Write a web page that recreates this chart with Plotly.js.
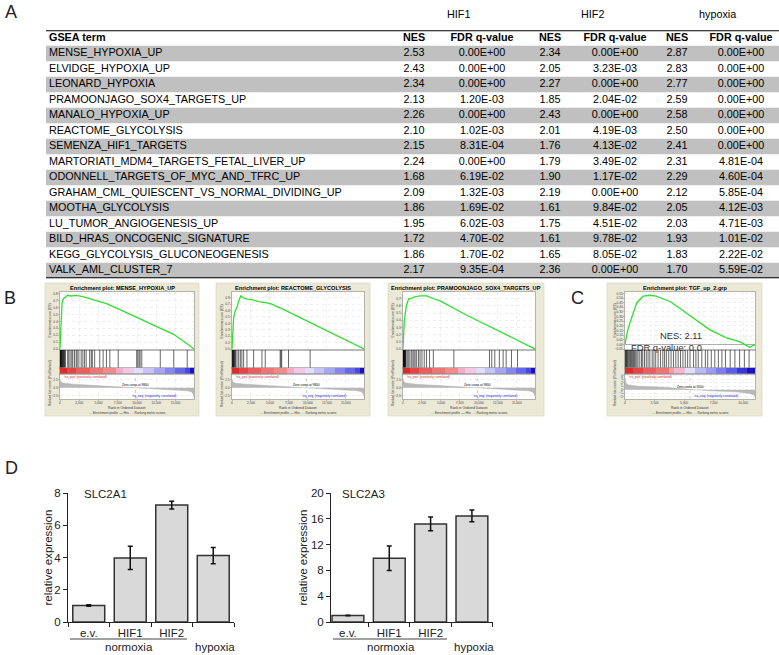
<!DOCTYPE html>
<html><head><meta charset="utf-8">
<script src="https://cdn.plot.ly/plotly-3.0.1.min.js"></script>
<style>html,body{margin:0;padding:0;background:#fff}#chart{width:779px;height:655px}</style>
</head><body><div id="chart"></div>
<script>
// ================= DATA =================
// Panel A table
const gseaTerms = ['MENSE_HYPOXIA_UP','ELVIDGE_HYPOXIA_UP','LEONARD_HYPOXIA','PRAMOONJAGO_SOX4_TARGETS_UP','MANALO_HYPOXIA_UP','REACTOME_GLYCOLYSIS','SEMENZA_HIF1_TARGETS','MARTORIATI_MDM4_TARGETS_FETAL_LIVER_UP','ODONNELL_TARGETS_OF_MYC_AND_TFRC_UP','GRAHAM_CML_QUIESCENT_VS_NORMAL_DIVIDING_UP','MOOTHA_GLYCOLYSIS','LU_TUMOR_ANGIOGENESIS_UP','BILD_HRAS_ONCOGENIC_SIGNATURE','KEGG_GLYCOLYSIS_GLUCONEOGENESIS','VALK_AML_CLUSTER_7'];
const groupHeaders = ['HIF1','HIF2','hypoxia'];
const columnHeaders = ['GSEA term','NES','FDR q-value','NES','FDR q-value','NES','FDR q-value'];
const hif1NES = [2.53,2.43,2.34,2.13,2.26,2.10,2.15,2.24,1.68,2.09,1.86,1.95,1.72,1.86,2.17];
const hif1FDR = ['0.00E+00','0.00E+00','0.00E+00','1.20E-03','0.00E+00','1.02E-03','8.31E-04','0.00E+00','6.19E-02','1.32E-03','1.69E-02','6.02E-03','4.70E-02','1.70E-02','9.35E-04'];
const hif2NES = [2.34,2.05,2.27,1.85,2.43,2.01,1.76,1.79,1.90,2.19,1.61,1.75,1.61,1.65,2.36];
const hif2FDR = ['0.00E+00','3.23E-03','0.00E+00','2.04E-02','0.00E+00','4.19E-03','4.13E-02','3.49E-02','1.17E-02','0.00E+00','9.84E-02','4.51E-02','9.78E-02','8.05E-02','0.00E+00'];
const hypoxiaNES = [2.87,2.83,2.77,2.59,2.58,2.50,2.41,2.31,2.29,2.12,2.05,2.03,1.93,1.83,1.70];
const hypoxiaFDR = ['0.00E+00','0.00E+00','0.00E+00','0.00E+00','0.00E+00','0.00E+00','0.00E+00','4.81E-04','4.60E-04','5.85E-04','4.12E-03','4.71E-03','1.01E-02','2.22E-02','5.59E-02'];

// Panels B/C: running enrichment scores (rank, ES)
const esRankMense = [0,130,260,440,700,1000,1450,2100,2970,4280,6030,8220,10400,12600,14800,16100,17400];
const esMense     = [0,0.24,0.66,0.73,0.76,0.78,0.77,0.78,0.76,0.72,0.66,0.55,0.44,0.33,0.21,0.11,0];
const esRankReact = [0,130,220,440,660,880,1180,1500,1970,2630,3500,4600,5260,6130,6570,8980,11170,13360,15550,17400];
const esReact     = [0,0.30,0.50,0.60,0.65,0.75,0.83,0.80,0.78,0.77,0.74,0.72,0.70,0.65,0.63,0.49,0.36,0.24,0.11,0];
const esRankPram  = [0,175,440,745,1180,1620,2280,3150,4030,4900,8410,12790,14980,17400];
const esPram      = [0,0.40,0.60,0.70,0.71,0.73,0.74,0.74,0.70,0.67,0.47,0.25,0.13,0];
const esRankTgf   = [0,110,220,440,990,1540,2090,2640,3850,4950,6050,7150,8580,9680,10120,10560,11000];
const esTgf       = [0,0.08,0.15,0.24,0.45,0.52,0.53,0.52,0.46,0.36,0.26,0.16,0.07,0.03,0.0,-0.03,0.0];

// Hit positions (ranks)
const hitsMense = [10,40,80,120,160,200,250,300,360,420,480,550,620,700,1000,1140,1310,1530,1660,1880,2100,2230,2450,2750,2970,3190,3400,3850,4060,4200,4500,5160,5600,6030,6470,7560,9960,10100,10270,10400,10620,13020,14770,16520];
const hitsReact = [20,60,100,150,200,260,320,400,480,660,880,1100,1300,1530,1970,2850,3950,4380,6350,6450,6550,7450,10300];
const hitsPram  = [20,50,80,110,140,170,200,240,280,330,400,550,700,900,1100,1300,1450,1600,1800,2050,2250,2500,2800,3100,3500,4000,6700,11400,11700,12100,12700,13200,13600,14300,15100];
const hitsTgf   = [20,60,100,150,200,260,330,400,470,550,640,720,800,900,1000,1100,1250,1400,1500,1650,1800,1950,2100,2300,2450,2600,2800,3000,3200,3350,3500,3700,3900,4100,4300,4500,4700,4900,5100,5300,5500,5800,6000,6200,6500,6800,7000,7300,7600,7900,8200,8500,8900,9300,9700,10100,10500];

// Ranked list metric (rank, value)
const metricRankB = [0,90,350,870,1740,3480,5220,6960,8700,9570,10440,12180,13920,15660,16530,17050,17310,17400];
const metricB     = [2.6,1.9,1.45,1.25,1.1,0.85,0.62,0.4,0.15,0.03,-0.08,-0.28,-0.5,-0.75,-0.95,-1.2,-1.9,-2.8];
const zeroCrossB  = 9800;
const metricRankC = [0,55,220,1100,3300,4950,5500,7150,9350,10450,10890,11000];
const metricC     = [3.5,2.0,1.4,1.0,0.7,0.3,0.0,-0.3,-0.6,-1.0,-1.4,-1.9];
const zeroCrossC  = 5500;

// Colour strip blocks (rank edges, correlation level)
const colorEdgesB  = [0,870,2090,3830,5570,7310,8180,9570,10790,12180,13570,14960,16180,16880,17400];
const colorValuesB = [1.0,0.9,0.8,0.7,0.6,0.3,0.15,-0.1,-0.25,-0.4,-0.55,-0.7,-0.85,-1.0];
const colorEdgesC  = [0,660,1540,2640,3740,4180,5060,5940,6820,7700,8580,9460,10340,11000];
const colorValuesC = [1.0,0.9,0.8,0.7,0.45,0.25,-0.1,-0.3,-0.45,-0.6,-0.75,-0.9,-1.0];

// Panel D
const conditions = ['e.v.','HIF1','HIF2','hypoxia'];
const slc2a1Mean = [1.02,3.97,7.25,4.12];
const slc2a1Err  = [0.05,0.72,0.24,0.5];
const slc2a3Mean = [1.0,9.9,15.2,16.45];
const slc2a3Err  = [0.05,1.9,1.07,0.9];

// ================= LAYOUT HELPERS =================
const W = 779, H = 655;
const FONT = 'Liberation Sans, Arial, Helvetica, sans-serif';
const data = [];
const layout = {width:W, height:H, margin:{l:0,r:0,t:0,b:0}, paper_bgcolor:'#ffffff', plot_bgcolor:'rgba(0,0,0,0)',
  showlegend:false, font:{family:FONT, color:'#000'}, shapes:[], annotations:[]};
let axCount = 0;
function addAxes(px0, px1, py0, py1, xo, yo) {
  axCount++;
  const s = axCount === 1 ? '' : String(axCount);
  const base = {showgrid:false, zeroline:false, showticklabels:false, ticks:'', fixedrange:true};
  layout['xaxis'+s] = Object.assign({}, base, {domain:[px0/W, px1/W], anchor:'y'+s}, xo || {});
  layout['yaxis'+s] = Object.assign({}, base, {domain:[1-py1/H, 1-py0/H], anchor:'x'+s}, yo || {});
  return {x:'x'+s, y:'y'+s};
}
function ann(px, py, text, opt) {
  const o = Object.assign({xref:'paper', yref:'paper', x:px/W, y:1-py/H, text:text, showarrow:false,
    xanchor:'center', yanchor:'middle'}, opt || {});
  o.font = Object.assign({family:FONT, size:10, color:'#000'}, (opt && opt.font) || {});
  layout.annotations.push(o);
}
function rect(x0, y0, x1, y1, fill, line) {
  layout.shapes.push({type:'rect', xref:'paper', yref:'paper', x0:x0/W, x1:x1/W, y0:1-y1/H, y1:1-y0/H,
    fillcolor:fill, line:line || {width:0}, layer:'below'});
}

// ================= PANEL A: TABLE =================
const ROW_H = 15.5;
const TABLE_L = 46, TABLE_R = 779, TABLE_T = 30.25, TABLE_B = TABLE_T + ROW_H * (gseaTerms.length + 1);
const colX = [49, 414, 482, 550, 615, 677, 741];      // text anchor per column
const groupX = [458, 592, 717];
const T = addAxes(0, W, TABLE_T, TABLE_B, {range:[0, W]}, {range:[gseaTerms.length + 0.5, -0.5]});
const greyRows = gseaTerms.map((t, i) => i + 1).filter(r => r % 2 === 1);
data.push({type:'bar', orientation:'h', xaxis:T.x, yaxis:T.y, y:greyRows, x:greyRows.map(() => TABLE_R - TABLE_L),
  base:TABLE_L, width:1, marker:{color:'#c0c0c0', line:{width:0}}, hoverinfo:'skip'});
const rowY = gseaTerms.map((t, i) => i + 1);
const tableCols = [gseaTerms, hif1NES.map(v => v.toFixed(2)), hif1FDR, hif2NES.map(v => v.toFixed(2)), hif2FDR,
  hypoxiaNES.map(v => v.toFixed(2)), hypoxiaFDR];
tableCols.forEach((col, c) => {
  const pos = c === 0 ? 'middle right' : 'middle center';
  data.push({type:'scatter', mode:'text', xaxis:T.x, yaxis:T.y, x:rowY.map(() => colX[c]), y:rowY, text:col,
    textposition:pos, textfont:{family:FONT, size:10.8, color:'#000'}, cliponaxis:false, hoverinfo:'skip'});
  data.push({type:'scatter', mode:'text', xaxis:T.x, yaxis:T.y, x:[colX[c]], y:[0], text:[columnHeaders[c]],
    textposition:pos, textfont:{family:FONT, size:10.8, color:'#000', weight:'bold'}, cliponaxis:false, hoverinfo:'skip'});
});
groupHeaders.forEach((g, i) => ann(groupX[i], 14, g, {font:{size:10.8}}));
layout.shapes.push({type:'line', xref:T.x, yref:T.y, x0:TABLE_L, x1:TABLE_R, y0:-0.5, y1:-0.5, line:{color:'#000', width:2}});
layout.shapes.push({type:'line', xref:T.x, yref:T.y, x0:TABLE_L, x1:TABLE_R, y0:gseaTerms.length + 0.5, y1:gseaTerms.length + 0.5, line:{color:'#000', width:2}});

// ================= PANELS B & C: GSEA PLOTS =================
const cbScale = [[0,'#1c10c4'],[0.075,'#4848e6'],[0.225,'#8686f0'],[0.3,'#a6a6f4'],[0.375,'#c4c4f8'],[0.45,'#e0def8'],
  [0.575,'#f4c8e4'],[0.65,'#f3adc6'],[0.8,'#f38a8a'],[0.9,'#ec5e5e'],[1,'#e02a2a']];
const panels = [
  {title:'MENSE_HYPOXIA_UP', fx:[45,199], px:[60,194], N:17400, esR:esRankMense, es:esMense, hits:hitsMense,
   esRange:[-0.014,0.828], esDtick:0.1, esFmt:'.1f', mR:metricRankB, m:metricB, mRange:[-3.46,4.23], mDtick:2.5, mFmt:'.1f',
   cbE:colorEdgesB, cbV:colorValuesB, zero:zeroCrossB, esZero:false},
  {title:'REACTOME_GLYCOLYSIS', fx:[216,370], px:[232,364], N:17400, esR:esRankReact, es:esReact, hits:hitsReact,
   esRange:[-0.015,0.89], esDtick:0.1, esFmt:'.1f', mR:metricRankB, m:metricB, mRange:[-3.46,4.23], mDtick:2.5, mFmt:'.1f',
   cbE:colorEdgesB, cbV:colorValuesB, zero:zeroCrossB, esZero:false},
  {title:'PRAMOONJAGO_SOX4_TARGETS_UP', fx:[388,544], px:[403,535], N:17400, esR:esRankPram, es:esPram, hits:hitsPram,
   esRange:[-0.013,0.794], esDtick:0.1, esFmt:'.1f', mR:metricRankB, m:metricB, mRange:[-3.46,4.23], mDtick:2.5, mFmt:'.1f',
   cbE:colorEdgesB, cbV:colorValuesB, zero:zeroCrossB, esZero:false},
  {title:'TGF_up_2.grp', fx:[607,762], px:[625,755], N:11000, esR:esRankTgf, es:esTgf, hits:hitsTgf,
   esRange:[-0.06,0.565], esDtick:0.05, esFmt:'.2f', mR:metricRankC, m:metricC, mRange:[-2.6,4.4], mDtick:1, mFmt:'d',
   cbE:colorEdgesC, cbV:colorValuesC, zero:zeroCrossC, esZero:true}
];
const FR_T = 283, FR_B = 416, TITLE_Y = 288, ES_T = 292, ES_B = 350, HIT_B = 368, CB_B = 374, M_B = 399;
const XT_Y = 408, LEG_Y = 412.7;
const gLine = {showline:true, mirror:true, linecolor:'#8c8c8c', linewidth:0.6};
const gGrid = {showgrid:true, gridcolor:'#dedede', griddash:'dot', gridwidth:0.5};
const tickSmall = {showticklabels:true, tickfont:{family:FONT, size:3.2, color:'#444'}, ticks:'outside', ticklen:1, tickwidth:0.5, tickcolor:'#888'};
panels.forEach(p => {
  const [x0, x1] = p.px;
  rect(p.fx[0], FR_T, p.fx[1], FR_B, '#ebe8d6', {width:0.6, color:'#d4d0ba'});
  rect(x0, ES_T, x1, M_B, '#ffffff');
  ann((p.fx[0] + p.fx[1]) / 2, TITLE_Y, '<b>Enrichment plot: ' + p.title + '</b>', {font:{size:5.6}});
  // ES
  const e = addAxes(x0, x1, ES_T, ES_B,
    Object.assign({range:[0, p.N], dtick:2500, tick0:0}, gGrid, gLine),
    Object.assign({range:p.esRange, dtick:p.esDtick, tick0:0, tickformat:p.esFmt, zeroline:p.esZero, zerolinecolor:'#9a9a9a', zerolinewidth:0.8}, tickSmall, gGrid, gLine));
  data.push({type:'scatter', mode:'lines', xaxis:e.x, yaxis:e.y, x:p.esR, y:p.es, line:{color:'#2fe02f', width:1.3}, hoverinfo:'skip'});
  // hits
  const h = addAxes(x0, x1, ES_B, HIT_B, Object.assign({range:[0, p.N]}, gLine), Object.assign({range:[0, 1]}, gLine));
  const hx = [], hy = [];
  p.hits.forEach(r => { hx.push(r, r, null); hy.push(0, 1, null); });
  data.push({type:'scatter', mode:'lines', xaxis:h.x, yaxis:h.y, x:hx, y:hy, line:{color:'#000', width:0.6}, hoverinfo:'skip'});
  // colour strip
  const c = addAxes(x0, x1, HIT_B, CB_B, Object.assign({range:[0, p.N]}, gLine), Object.assign({range:[0, 1]}, gLine));
  data.push({type:'heatmap', xaxis:c.x, yaxis:c.y, x:p.cbE, y:[0, 1], z:[p.cbV], zmin:-1, zmax:1, colorscale:cbScale, showscale:false, hoverinfo:'skip'});
  // ranked metric
  const m = addAxes(x0, x1, CB_B, M_B,
    Object.assign({range:[0, p.N], dtick:2500, tick0:0, tickformat:','}, tickSmall, gGrid, gLine),
    Object.assign({range:p.mRange, dtick:p.mDtick, tick0:0, tickformat:p.mFmt}, tickSmall, gGrid, gLine));
  data.push({type:'scatter', mode:'lines', xaxis:m.x, yaxis:m.y, x:p.mR, y:p.m, fill:'tozeroy', fillcolor:'#b8b8b8',
    line:{color:'#a8a8a8', width:0.4}, hoverinfo:'skip'});
  data.push({type:'scatter', mode:'lines', xaxis:m.x, yaxis:m.y, x:[p.zero, p.zero], y:p.mRange,
    line:{color:'#9a9a9a', width:0.5, dash:'dot'}, hoverinfo:'skip'});
  layout.annotations.push({xref:m.x, yref:m.y, x:p.zero, y:0, yshift:3, text:'Zero cross at ' + p.zero, showarrow:false,
    font:{family:FONT, size:3.2, color:'#000'}});
  layout.annotations.push({xref:m.x, yref:m.y, x:p.N * 0.7, y:p.mRange[0] * 0.72, text:"'na_neg' (negatively correlated)", showarrow:false,
    font:{family:FONT, size:3.2, color:'#2020d0'}});
  ann(x0 + 1.5, CB_B + 2.8, "'na_pos' (positively correlated)", {xanchor:'left', font:{size:3.2, color:'#e02020'}});
  ann(x0 - 10.5, (ES_T + ES_B) / 2, 'Enrichment score (ES)', {textangle:-90, font:{size:3.4, color:'#333'}});
  ann(x0 - 10.5, (HIT_B + M_B) / 2, 'Ranked list metric (PreRanked)', {textangle:-90, font:{size:3.3, color:'#333'}});
  ann((x0 + x1) / 2, XT_Y, 'Rank in Ordered Dataset', {font:{size:3.4, color:'#333'}});
  ann((x0 + x1) / 2, LEG_Y, '<span style="color:#2fe02f">\u2014</span> Enrichment profile  <span style="color:#000">\u2014</span> Hits  <span style="color:#a8a8a8">\u2014</span> Ranking metric scores',
    {font:{size:3.1, color:'#333'}});
});
ann(704, 335, 'NES: 2.11', {xanchor:'right', font:{size:9.4, color:'#333'}});
ann(704, 347, 'FDR q-value: 0.0', {xanchor:'right', font:{size:9.4, color:'#333'}});

// ================= PANEL D: BAR CHARTS =================
const D_T = 493, D_B = 622;
const tickLabels = conditions.map(c => c === 'hypoxia' ? ' ' : c);
function barPanel(px0, px1, xr, ymax, dtick, means, errs, gene, geneX, ytitleX, ulX0, ulX1, normX, hypX) {
  const a = addAxes(px0, px1, D_T, D_B,
    {type:'category', range:xr, showline:true, linecolor:'#222', linewidth:1, ticks:'outside', ticklen:4, tickcolor:'#222',
     tickson:'boundaries', showticklabels:true, tickfont:{family:FONT, size:11.5, color:'#222'}},
    {range:[0, ymax], dtick:dtick, tick0:0, showline:true, linecolor:'#222', linewidth:1, ticks:'outside', ticklen:4, tickcolor:'#222',
     showticklabels:true, tickfont:{family:FONT, size:11.5, color:'#222'}});
  data.push({type:'bar', xaxis:a.x, yaxis:a.y, x:tickLabels, y:means, width:0.77,
    marker:{color:'#d9d9d9', line:{color:'#333', width:1.5}},
    error_y:{type:'data', array:errs, visible:true, color:'#111', thickness:1.5, width:2.5}, hoverinfo:'skip'});
  ann(geneX, D_T + 1, gene, {xanchor:'left', font:{size:11.5, color:'#222'}});
  ann(ytitleX, (D_T + D_B) / 2, 'relative expression', {textangle:-90, font:{size:11.5, color:'#222'}});
  layout.shapes.push({type:'line', xref:'paper', yref:'paper', x0:ulX0/W, x1:ulX1/W, y0:1-639/H, y1:1-639/H, line:{color:'#444', width:1}});
  ann(normX, 646.5, 'normoxia', {font:{size:11.5, color:'#222'}});
  ann(hypX, 646.5, 'hypoxia', {font:{size:11.5, color:'#222'}});
}
barPanel(68, 234, [-0.5, 3.5], 8, 2, slc2a1Mean, slc2a1Err, 'SLC2A1', 82, 47, 70, 187, 129, 215);
barPanel(331, 493, [-0.41, 3.51], 20, 4, slc2a3Mean, slc2a3Err, 'SLC2A3', 340, 302, 333, 447, 391, 474);

// Panel letters
ann(11, 12, 'A', {font:{size:18, color:'#222'}});
ann(10, 298, 'B', {font:{size:18, color:'#222'}});
ann(577, 298, 'C', {font:{size:18, color:'#222'}});
ann(11, 468, 'D', {font:{size:18, color:'#222'}});

Plotly.newPlot('chart', data, layout, {staticPlot:true, displayModeBar:false});
</script>
</body></html>
